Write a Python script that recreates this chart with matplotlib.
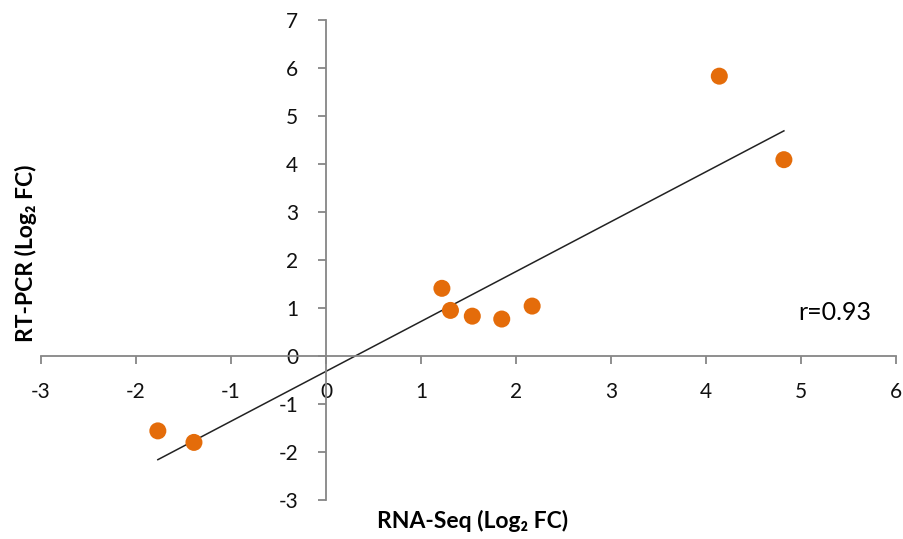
import numpy as np
import matplotlib
matplotlib.use("Agg")
import matplotlib.pyplot as plt

# Data
rna_seq = [-1.77, -1.39, 1.22, 1.31, 1.54, 1.85, 2.17, 4.14, 4.82]
rt_pcr = [-1.56, -1.80, 1.41, 0.95, 0.83, 0.77, 1.04, 5.83, 4.09]
x_ticks = [-3, -2, -1, 0, 1, 2, 3, 4, 5, 6]
y_ticks = [-3, -2, -1, 0, 1, 2, 3, 4, 5, 6, 7]
r_label = "r=0.93"

FONT = ["Lato", "DejaVu Sans"]
plt.rcParams['font.family'] = FONT

fig = plt.figure(figsize=(9.04, 5.39), dpi=100)
ax = fig.add_axes([41/904, 39/539, 855/904, 480/539])

xs = np.array(rna_seq)
ys = np.array(rt_pcr)
slope, intercept = np.polyfit(xs, ys, 1)
lx = np.array([xs.min(), xs.max()])
ax.plot(lx, slope*lx + intercept, color="#222222", lw=1.1, zorder=2)
ax.scatter(xs, ys, s=150, color="#E46C0A", edgecolors="none", zorder=3)

ax.set_xlim(-3, 6)
ax.set_ylim(-3, 7)
ax.set_xticks(x_ticks)
ax.set_yticks(y_ticks)
ax.set_xticklabels([str(v) for v in x_ticks])
ax.set_yticklabels([str(v) for v in y_ticks])

for s in ['top', 'right']:
    ax.spines[s].set_visible(False)
ax.spines['left'].set_position(('data', 0))
ax.spines['bottom'].set_position(('data', 0))
for s in ['left', 'bottom']:
    ax.spines[s].set_color("#868686")
    ax.spines[s].set_linewidth(1.3)
ax.tick_params(axis='both', direction='out', length=6, width=1.3, color="#868686",
               labelsize=15, labelcolor="#111111")
ax.tick_params(axis='x', pad=13)
ax.tick_params(axis='y', pad=14)

ax.text(5.74, 0.91, r_label, ha='right', va='center', fontsize=18, color="#000000")

fig.text(473/904, 1 - 521/539, "RNA-Seq (Log₂ FC)", ha='center', va='center',
         fontsize=16.5, fontweight='bold', family=FONT)
fig.text(26/904, 1 - 253/539, "RT-PCR (Log₂ FC)", ha='center', va='center',
         rotation=90, fontsize=16.5, fontweight='bold', family=FONT)

fig.savefig("out.png", dpi=100)
